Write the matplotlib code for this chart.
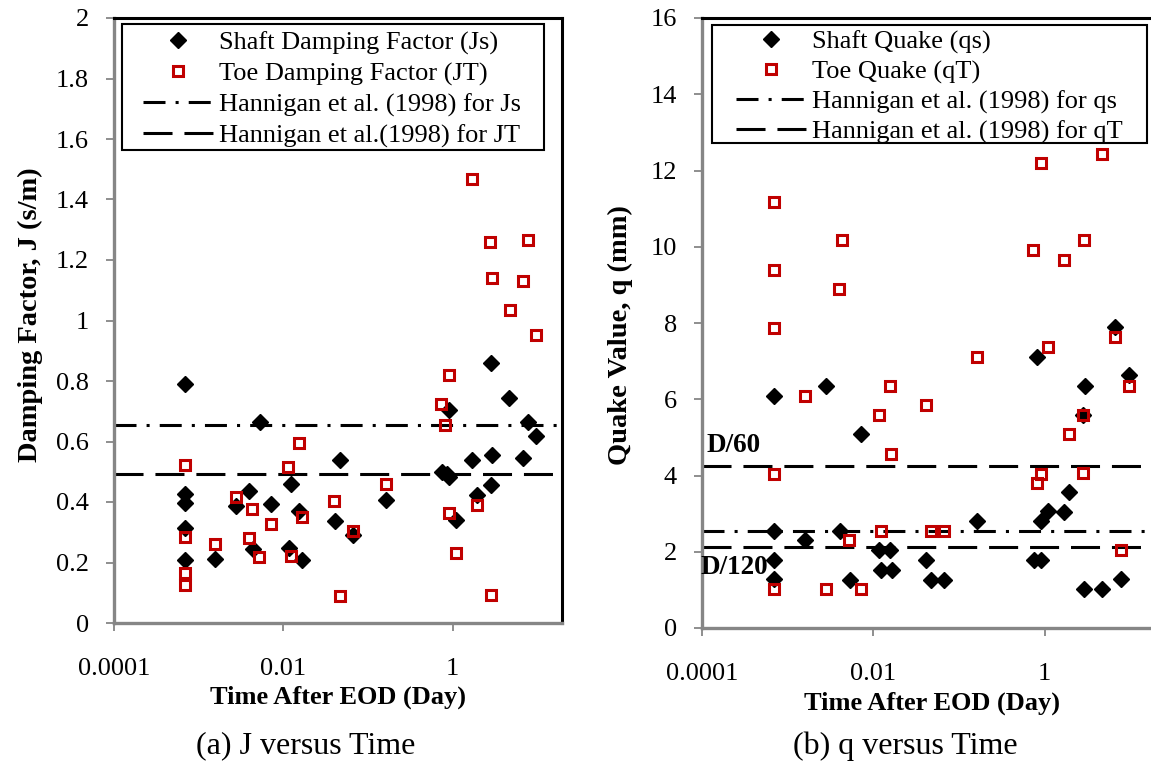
import matplotlib
matplotlib.use("Agg")
import matplotlib.pyplot as plt
from matplotlib.lines import Line2D
from matplotlib.patches import Rectangle
from matplotlib.ticker import FixedLocator, FuncFormatter, NullLocator

plt.rcParams['font.family'] = ['Liberation Serif', 'DejaVu Serif']

# ---- data: (a) damping factor J (s/m) vs time after EOD (day)
js_time = [6.8e-4, 6.8e-4, 6.8e-4, 6.8e-4, 6.8e-4, 1.56e-3, 2.79e-3, 3.98e-3, 4.32e-3,
           5.32e-3, 7.18e-3, 0.0115, 0.0123, 0.0151, 0.0167, 0.0403, 0.047, 0.0658,
           0.164, 0.748, 0.857, 0.897, 0.897, 1.09, 1.69, 1.92, 2.81, 2.86, 2.89,
           4.63, 6.67, 7.78, 9.66]
js_val = [0.79, 0.427, 0.398, 0.314, 0.207, 0.211, 0.387, 0.435, 0.244,
          0.666, 0.395, 0.247, 0.459, 0.371, 0.209, 0.336, 0.538, 0.292,
          0.406, 0.50, 0.492, 0.704, 0.484, 0.341, 0.538, 0.422, 0.455, 0.859, 0.554,
          0.743, 0.545, 0.666, 0.619]

jt_time = [6.8e-4, 6.8e-4, 6.8e-4, 6.8e-4, 1.56e-3, 2.79e-3, 4.25e-3, 3.91e-3, 5.22e-3,
           7.18e-3, 0.0114, 0.0123, 0.0155, 0.0164, 0.0399, 0.047, 0.0658, 0.163,
           0.728, 0.897, 0.804, 0.897, 1.08, 1.92, 2.84, 9.57, 1.69, 2.76, 7.78,
           2.92, 6.67, 4.68]
jt_val = [0.523, 0.283, 0.165, 0.124, 0.262, 0.416, 0.378, 0.282, 0.217,
          0.326, 0.517, 0.222, 0.594, 0.351, 0.404, 0.090, 0.305, 0.459,
          0.724, 0.820, 0.656, 0.362, 0.230, 0.389, 0.092, 0.951, 1.469, 1.260, 1.267,
          1.141, 1.132, 1.034]

hannigan_js = 0.656
hannigan_jt = 0.492

# ---- data: (b) quake q (mm) vs time after EOD (day)
qs_time = [6.87e-4, 6.87e-4, 6.87e-4, 6.87e-4, 1.58e-3, 2.83e-3, 4.13e-3, 5.33e-3, 7.21e-3,
           0.0118, 0.0155, 0.0122, 0.0164, 0.041, 0.0473, 0.0664, 0.164, 0.813,
           0.753, 0.918, 0.910, 1.10, 1.70, 1.92, 2.94, 2.82, 2.88, 4.67, 6.68,
           7.83, 9.66]
qs_val = [6.09, 2.54, 1.79, 1.28, 2.30, 6.35, 2.54, 1.27, 5.08,
          2.05, 2.05, 1.53, 1.53, 1.79, 1.27, 1.27, 2.80, 7.12,
          1.79, 1.79, 2.80, 3.06, 3.04, 3.57, 6.35, 5.59, 1.02, 1.02, 7.89,
          1.28, 6.64]

qt_time = [6.87e-4, 6.87e-4, 6.87e-4, 6.87e-4, 6.87e-4, 1.58e-3, 2.83e-3, 5.24e-3, 7.21e-3,
           0.0117, 0.0122, 0.0155, 0.0163, 0.041, 0.0473, 0.0664, 0.164, 0.813,
           0.910, 1.10, 1.92, 2.82, 2.85, 6.68, 7.83, 9.66, 4.30e-3, 4.02e-3,
           0.726, 0.902, 1.70, 2.91, 4.67]
qt_val = [7.88, 4.05, 1.02, 11.17, 9.40, 6.09, 1.02, 2.30, 1.02,
          5.59, 2.54, 6.35, 4.57, 5.84, 2.54, 2.54, 7.12, 3.81,
          4.05, 7.37, 5.08, 5.59, 4.06, 7.62, 2.04, 6.36, 10.17, 8.89,
          9.91, 12.20, 9.65, 10.17, 12.44]

hannigan_qs = 2.54
hannigan_qt = 2.12   # D/120
d60 = 4.24

x_ticks = [1e-4, 1e-2, 1]
x_tick_labels = ['0.0001', '0.01', '1']

RED = '#C00000'
GREY = '#868686'
W, H = 1151, 763
dashdot = (0, (7.2, 3.3, 1.0, 3.3))
longdash = (0, (9.5, 3.9))
MS_D, MS_S, MEW_S = 8.0, 7.2, 2.2


def style_axes(ax, ymax, ystep):
    ax.set_xscale('log')
    ax.set_xlim(1e-4, 10 ** 1.29)
    ax.set_ylim(0, ymax)
    ax.xaxis.set_major_locator(FixedLocator(x_ticks))
    ax.xaxis.set_minor_locator(NullLocator())
    ax.set_xticklabels(x_tick_labels)
    ax.yaxis.set_major_locator(FixedLocator([i * ystep for i in range(int(round(ymax / ystep)) + 1)]))
    ax.yaxis.set_major_formatter(FuncFormatter(lambda v, p: '%g' % round(v, 2)))
    for s in ['top', 'right']:
        ax.spines[s].set_color('black')
        ax.spines[s].set_linewidth(2.2)
    for s in ['left', 'bottom']:
        ax.spines[s].set_color(GREY)
        ax.spines[s].set_linewidth(2.4)
    ax.tick_params(axis='both', which='major', direction='out', length=6, width=1.3,
                   color=GREY, labelsize=19)
    ax.tick_params(axis='x', pad=19)
    ax.tick_params(axis='y', pad=12)


def legend_box(ax, box, anchor, labels, handles, spacing):
    # box = (x0, y0, x1, y1) in pixels of the picture
    x0, y0, x1, y1 = box
    inv = ax.transAxes.inverted()
    fx0, fy1 = inv.transform((x0, H - y1))
    fx1, fy0 = inv.transform((x1, H - y0))
    ax.add_patch(Rectangle((fx0, fy1), fx1 - fx0, fy0 - fy1, transform=ax.transAxes,
                           facecolor='white', edgecolor='black', linewidth=1.5, zorder=5))
    ax_anchor = inv.transform((anchor[0], H - anchor[1]))
    leg = ax.legend(handles, labels, loc='upper left', bbox_to_anchor=ax_anchor,
                    frameon=False, fontsize=19, handlelength=2.65, handletextpad=0.22,
                    borderpad=0, borderaxespad=0, labelspacing=spacing)
    leg.set_zorder(6)


def handles():
    return [Line2D([], [], ls='none', marker='D', ms=MS_D, color='black'),
            Line2D([], [], ls='none', marker='s', ms=MS_S, mfc='none', mec=RED, mew=MEW_S),
            Line2D([], [], color='black', lw=2.2, ls=dashdot),
            Line2D([], [], color='black', lw=2.2, ls=longdash)]


fig = plt.figure(figsize=(W / 100, H / 100), dpi=100)

# ---------------- panel (a)
ax1 = fig.add_axes([114 / W, (H - 623) / H, 448 / W, 605 / H])
style_axes(ax1, 2, 0.2)
ax1.axhline(hannigan_js, color='black', lw=2.2, ls=dashdot, zorder=2)
ax1.axhline(hannigan_jt, color='black', lw=2.2, ls=longdash, zorder=2)
ax1.plot(js_time, js_val, ls='none', marker='D', ms=MS_D, color='black', zorder=3)
ax1.plot(jt_time, jt_val, ls='none', marker='s', ms=MS_S, mfc='none', mec=RED, mew=MEW_S, zorder=4)
ax1.set_ylabel('Damping Factor, J (s/m)', fontsize=20.5, fontweight='bold', va='center')
ax1.yaxis.set_label_coords((30 - 114) / 448, (623 - 315) / 605)
ax1.set_xlabel('Time After EOD (Day)', fontsize=19, fontweight='bold', va='center')
ax1.xaxis.set_label_coords((338 - 114) / 448, (623 - 697) / 605)

l_a = ['Shaft Damping Factor (Js)', 'Toe Damping Factor (JT)',
       'Hannigan et al. (1998) for Js', 'Hannigan et al.(1998) for JT']
legend_box(ax1, (122, 24, 544, 150), (143, 31), l_a, handles(), 0.27)

# ---------------- panel (b)
ax2 = fig.add_axes([702 / W, (H - 628) / H, 453 / W, 610 / H])
style_axes(ax2, 16, 2)
ax2.axhline(hannigan_qs, color='black', lw=2.2, ls=dashdot, zorder=2)
ax2.axhline(hannigan_qt, color='black', lw=2.2, ls=longdash, zorder=2)
ax2.axhline(d60, color='black', lw=2.2, ls=longdash, zorder=2)
ax2.plot(qs_time, qs_val, ls='none', marker='D', ms=MS_D, color='black', zorder=3)
ax2.plot(qt_time, qt_val, ls='none', marker='s', ms=MS_S, mfc='none', mec=RED, mew=MEW_S, zorder=4)
ax2.text(1.12e-4, 4.45, 'D/60', fontsize=19.5, fontweight='bold', ha='left', va='bottom')
ax2.text(0.97e-4, 1.6, 'D/120', fontsize=19.5, fontweight='bold', ha='left', va='center')
ax2.set_ylabel('Quake Value, q (mm)', fontsize=20.5, fontweight='bold', va='center')
ax2.yaxis.set_label_coords((620 - 702) / 453, (628 - 335) / 610)
ax2.set_xlabel('Time After EOD (Day)', fontsize=19, fontweight='bold', va='center')
ax2.xaxis.set_label_coords((932 - 702) / 453, (628 - 703) / 610)

l_b = ['Shaft Quake (qs)', 'Toe Quake (qT)',
       'Hannigan et al. (1998) for qs', 'Hannigan et al. (1998) for qT']
legend_box(ax2, (712, 25, 1147, 143), (736, 30), l_b, handles(), 0.23)

# captions
fig.text(306 / W, 1 - 746 / H, '(a) J versus Time', fontsize=23, ha='center', va='center')
fig.text(905 / W, 1 - 746 / H, '(b) q versus Time', fontsize=23, ha='center', va='center')

fig.savefig('out.png', dpi=100)
